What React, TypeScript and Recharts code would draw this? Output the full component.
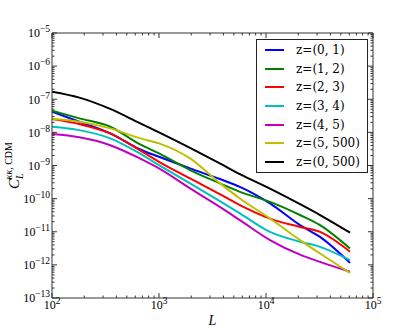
import { LineChart, Line, XAxis, YAxis, Legend } from "recharts";

// multipole L and C_L^{kk,CDM} per redshift bin
const ells = [100, 180, 350, 660, 1000, 1950, 3700, 5700, 10900, 20800, 32000, 61000];
const z01 = [4.2e-8, 2.1e-8, 9.3e-9, 3.1e-9, 1.83e-9, 8.2e-10, 3.9e-10, 2.27e-10, 7.2e-11, 1.58e-11, 7.0e-12, 1.15e-12];
const z12 = [4.5e-8, 2.65e-8, 1.48e-8, 4.4e-9, 2.32e-9, 7.3e-10, 2.9e-10, 1.6e-10, 8.0e-11, 3.2e-11, 1.58e-11, 3.1e-12];
const z23 = [2.52e-8, 1.78e-8, 9.3e-9, 2.9e-9, 1.29e-9, 4.07e-10, 1.37e-10, 6.4e-11, 2.5e-11, 1.4e-11, 9.9e-12, 2.5e-12];
const z34 = [1.48e-8, 1.17e-8, 6.6e-9, 2.32e-9, 1.03e-9, 2.9e-10, 8.4e-11, 3.6e-11, 9.9e-12, 5.0e-12, 3.5e-12, 1.39e-12];
const z45 = [8.9e-9, 7.1e-9, 4.1e-9, 1.64e-9, 8.2e-10, 2.03e-10, 5.6e-11, 2.24e-11, 5.6e-12, 2.03e-12, 1.23e-12, 6.2e-13];
const z5500 = [2.58e-8, 2.09e-8, 1.32e-8, 6.7e-9, 4.65e-9, 1.64e-9, 2.94e-10, 1.01e-10, 2.52e-11, 5.6e-12, 2.2e-12, 5.7e-13];
const z0500 = [1.69e-7, 1.12e-7, 5.1e-8, 1.9e-8, 1.0e-8, 3.4e-9, 1.16e-9, 5.5e-10, 2.0e-10, 6.8e-11, 3.2e-11, 9.4e-12];

const series = [
  { key: "z01", name: "z=(0, 1)", color: "#0000ff", values: z01 },
  { key: "z12", name: "z=(1, 2)", color: "#008000", values: z12 },
  { key: "z23", name: "z=(2, 3)", color: "#ff0000", values: z23 },
  { key: "z34", name: "z=(3, 4)", color: "#00bfbf", values: z34 },
  { key: "z45", name: "z=(4, 5)", color: "#bf00bf", values: z45 },
  { key: "z5500", name: "z=(5, 500)", color: "#bfbf00", values: z5500 },
  { key: "z0500", name: "z=(0, 500)", color: "#000000", values: z0500 },
];

const data = ells.map((l, i) => {
  const row: Record<string, number> = { L: l };
  series.forEach((s) => (row[s.key] = s.values[i]));
  return row;
});

// log ticks: majors at decades, minors at 2..9
const logTicks = (lo: number, hi: number) => {
  const out: number[] = [];
  for (let e = lo; e <= hi; e++) {
    out.push(Number("1e" + e));
    if (e < hi) for (let m = 2; m <= 9; m++) out.push(Number(m + "e" + e));
  }
  return out;
};
const xTicks = logTicks(2, 5);
const yTicks = logTicks(-13, -5);

const frame = "#333";
const tickFont = "'Liberation Serif', 'Times New Roman', serif";

const isMajor = (v: number) => {
  const e = Math.log10(v);
  return Math.abs(e - Math.round(e)) < 1e-6;
};
const expText = (v: number) => {
  const e = Math.round(Math.log10(v));
  return e < 0 ? "\u2212" + Math.abs(e) : String(e);
};

const TickMark = ({ x, y, payload, side }: any) => {
  const major = isMajor(payload.value);
  const len = major ? 5 : 2.5;
  let x2 = x, y2 = y;
  if (side === "bottom") y2 = y - len;
  if (side === "top") y2 = y + len;
  if (side === "left") x2 = x + len;
  if (side === "right") x2 = x - len;
  return (
    <g>
      <line x1={x} y1={y} x2={x2} y2={y2} stroke={frame} strokeWidth={1} />
      {major && side === "bottom" && (
        <text x={x} y={y + 11} textAnchor="middle" fontFamily={tickFont} fontSize={12} fill="#000">
          10<tspan dy={-5} fontSize={9.5}>{expText(payload.value)}</tspan>
        </text>
      )}
      {major && side === "left" && (
        <text x={x - 2} y={y + 4.3} textAnchor="end" fontFamily={tickFont} fontSize={12} fill="#000">
          10<tspan dy={-5} fontSize={9.5}>{expText(payload.value)}</tspan>
        </text>
      )}
    </g>
  );
};

const YLabel = ({ viewBox }: any) => {
  const cx = viewBox.x + 19;
  const cy = viewBox.y + viewBox.height / 2;
  return (
    <text x={cx} y={cy} transform={`rotate(-90 ${cx} ${cy})`} textAnchor="middle" fontFamily={tickFont} fill="#000">
      <tspan fontStyle="italic" fontSize={15}>C</tspan>
      <tspan fontStyle="italic" fontSize={10} dy={4}>L</tspan>
      <tspan fontSize={10} dx={-6} dy={-11}>
        <tspan fontStyle="italic">κκ</tspan>, CDM
      </tspan>
    </text>
  );
};

const XLabel = ({ viewBox }: any) => (
  <text x={viewBox.x + viewBox.width / 2} y={viewBox.y + 27} textAnchor="middle" fontFamily={tickFont} fontStyle="italic" fontSize={14} fill="#000">
    L
  </text>
);

const order = (p: any) => series.findIndex((s) => s.name === p.value);

const LegendBox = ({ payload }: any) => (
  <div
    style={{
      border: "1px solid #222",
      background: "#fff",
      width: 110,
      height: 131,
      paddingTop: 1,
      boxSizing: "content-box",
      fontFamily: "'DejaVu Serif', serif",
      fontSize: 12,
      color: "#000",
    }}
  >
    {[...(payload || [])]
      .filter((p: any) => order(p) >= 0)
      .sort((a: any, b: any) => order(a) - order(b))
      .map((p: any) => (
        <div key={p.value} style={{ height: 18.6, display: "flex", alignItems: "center" }}>
          <span style={{ display: "inline-block", width: 19, height: 2, background: p.color, marginLeft: 8, marginRight: 12 }} />
          <span style={{ whiteSpace: "nowrap" }}>{p.value}</span>
        </div>
      ))}
  </div>
);

export default function App() {
  return (
    <div style={{ width: 415, height: 332, background: "#fff" }}>
      <style>{"body{margin:0}"}</style>
      <LineChart width={415} height={332} data={data} margin={{ top: 32, right: 41, bottom: 0, left: 0 }}>
        <XAxis
          dataKey="L"
          type="number"
          scale="log"
          domain={[100, 100000]}
          allowDataOverflow
          ticks={xTicks}
          interval={0}
          tickSize={0}
          tickMargin={0}
          height={34}
          axisLine={{ stroke: frame }}
          tick={<TickMark side="bottom" />}
          label={<XLabel />}
        />
        <XAxis
          xAxisId="top"
          orientation="top"
          dataKey="L"
          type="number"
          scale="log"
          domain={[100, 100000]}
          allowDataOverflow
          ticks={xTicks}
          interval={0}
          tickSize={0}
          tickMargin={0}
          height={1}
          axisLine={{ stroke: frame }}
          tick={<TickMark side="top" />}
        />
        <YAxis
          type="number"
          scale="log"
          domain={[1e-13, 1e-5]}
          allowDataOverflow
          ticks={yTicks}
          interval={0}
          tickSize={0}
          tickMargin={0}
          width={52}
          axisLine={{ stroke: frame }}
          tick={<TickMark side="left" />}
          label={<YLabel />}
        />
        <YAxis
          yAxisId="right"
          orientation="right"
          type="number"
          scale="log"
          domain={[1e-13, 1e-5]}
          allowDataOverflow
          ticks={yTicks}
          interval={0}
          tickSize={0}
          tickMargin={0}
          width={1}
          axisLine={{ stroke: frame }}
          tick={<TickMark side="right" />}
        />
        <Legend
          layout="vertical"
          align="center"
          verticalAlign="middle"
          content={<LegendBox />}
          wrapperStyle={{ left: 256, top: 39, width: 112, height: 133 }}
        />
        {/* invisible series so the top frame axis gets a scale */}
        <Line xAxisId="top" dataKey="z0500" stroke="none" legendType="none" dot={false} activeDot={false} isAnimationActive={false} />
        {series.map((s) => (
          <Line
            key={s.key}
            dataKey={s.key}
            name={s.name}
            stroke={s.color}
            strokeWidth={2}
            type="monotone"
            dot={false}
            activeDot={false}
            isAnimationActive={false}
          />
        ))}
      </LineChart>
    </div>
  );
}
